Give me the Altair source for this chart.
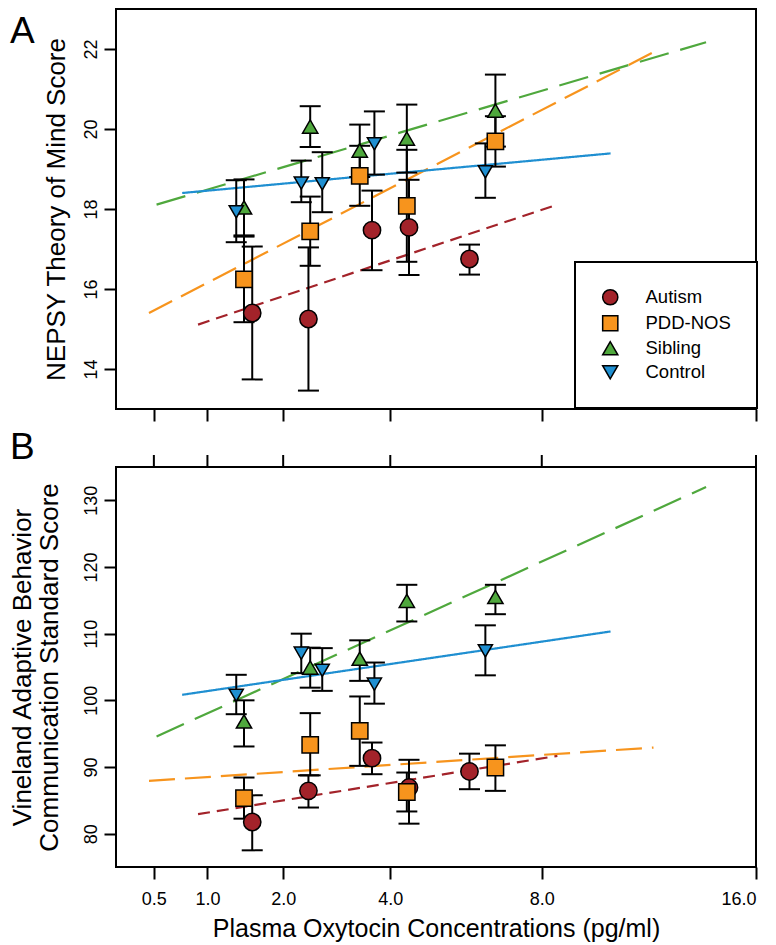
import altair as alt
import pandas as pd

FONT = "Liberation Sans"

groups = ["Autism", "PDD-NOS", "Sibling", "Control"]
colors = ["#A3232A", "#F7941D", "#4FA83D", "#1F8FD1"]
shapes = ["circle", "square", "triangle-up", "triangle-down"]
sizes = [300, 200, 260, 260]
dashes = [[12, 7], [26, 10], [30, 12], [1, 0]]

x_ticks = [0.5, 1.0, 2.0, 4.0, 8.0, 16.0]
ya_ticks = [14, 16, 18, 20, 22]
yb_ticks = [80, 90, 100, 110, 120, 130]

# group-mean oxytocin concentration (pg/ml)
autism_x = [1.55, 2.41, 3.61, 4.42, 5.92]
pdd_x = [1.44, 2.44, 3.36, 4.37, 6.63]
sib_x = [1.44, 2.44, 3.36, 4.37, 6.63]
ctrl_x = [1.34, 2.29, 2.65, 3.66, 6.35]

# Panel A: NEPSY Theory of Mind
autism_a = [15.40, 15.25, 17.47, 17.54, 16.75]
autism_a_lo = [13.74, 13.46, 16.47, 16.35, 16.36]
autism_a_hi = [17.06, 17.04, 18.46, 18.73, 17.11]
pdd_a = [16.24, 17.44, 18.83, 18.08, 19.69]
pdd_a_lo = [15.17, 16.58, 18.08, 16.68, 19.06]
pdd_a_hi = [17.31, 18.31, 19.58, 19.48, 20.32]
sib_a = [18.04, 20.06, 19.46, 19.76, 20.46]
sib_a_lo = [17.34, 19.55, 18.80, 18.91, 19.56]
sib_a_hi = [18.74, 20.57, 20.11, 20.61, 21.36]
ctrl_a = [17.93, 18.65, 18.63, 19.63, 18.93]
ctrl_a_lo = [17.17, 18.17, 17.92, 18.86, 18.28]
ctrl_a_hi = [18.72, 19.21, 19.42, 20.44, 19.64]

# Panel B: Vineland communication
autism_b = [81.75, 86.42, 91.33, 86.92, 89.33]
autism_b_lo = [77.50, 83.92, 88.92, 81.50, 86.67]
autism_b_hi = [85.75, 88.75, 93.67, 91.08, 92.00]
pdd_b = [85.33, 93.33, 95.42, 86.25, 89.92]
pdd_b_lo = [82.25, 88.75, 90.17, 83.33, 86.42]
pdd_b_hi = [88.42, 98.08, 100.58, 89.17, 93.25]
sib_b = [96.83, 104.92, 106.25, 114.92, 115.50]
sib_b_lo = [93.08, 101.90, 102.92, 111.83, 112.92]
sib_b_hi = [100.00, 107.90, 109.00, 117.33, 117.33]
ctrl_b = [100.75, 107.08, 104.50, 102.42, 107.42]
ctrl_b_lo = [97.92, 104.08, 101.42, 99.50, 103.75]
ctrl_b_hi = [103.83, 110.00, 107.83, 105.67, 111.25]

# fitted lines: start / end x and y
line_x0 = [0.90, 0.463, 0.521, 0.743]
line_x1 = [8.49, 11.83, 13.89, 10.27]
line_a_y0 = [15.11, 15.40, 18.11, 18.40]
line_a_y1 = [18.11, 21.92, 22.17, 19.39]
line_b_y0 = [82.92, 87.92, 94.58, 100.83]
line_b_y1 = [91.67, 92.92, 132.00, 110.33]


def points_frame(xs, ys, los, his):
    rows = []
    for g, xl, yl, ll, hl in zip(groups, xs, ys, los, his):
        for x, y, lo, hi in zip(xl, yl, ll, hl):
            rows.append({"group": g, "x": x, "y": y, "lo": lo, "hi": hi})
    return pd.DataFrame(rows)


def caps_frame(df):
    rows = []
    for _, r in df.iterrows():
        rows.append({"group": r["group"], "x": r["x"], "yc": r["lo"]})
        rows.append({"group": r["group"], "x": r["x"], "yc": r["hi"]})
    return pd.DataFrame(rows)


def lines_frame(y0, y1):
    rows = []
    for g, a, b, c, d in zip(groups, line_x0, line_x1, y0, y1):
        rows.append({"group": g, "x": a, "y": c})
        rows.append({"group": g, "x": b, "y": d})
    return pd.DataFrame(rows)


xs_all = [autism_x, pdd_x, sib_x, ctrl_x]
pts_a = points_frame(xs_all, [autism_a, pdd_a, sib_a, ctrl_a],
                     [autism_a_lo, pdd_a_lo, sib_a_lo, ctrl_a_lo],
                     [autism_a_hi, pdd_a_hi, sib_a_hi, ctrl_a_hi])
pts_b = points_frame(xs_all, [autism_b, pdd_b, sib_b, ctrl_b],
                     [autism_b_lo, pdd_b_lo, sib_b_lo, ctrl_b_lo],
                     [autism_b_hi, pdd_b_hi, sib_b_hi, ctrl_b_hi])
lines_a = lines_frame(line_a_y0, line_a_y1)
lines_b = lines_frame(line_b_y0, line_b_y1)

W, H = 640, 400
xscale = alt.Scale(type="sqrt", domain=[0.25, 16], nice=False, zero=False)


def make_panel(pts, lines, ydomain, yticks, ytitle, title_x, letter, letter_y,
               bottom_labels, legend):
    yscale = alt.Scale(domain=ydomain, nice=False, zero=False)
    xaxis = alt.Axis(values=x_ticks, labels=bottom_labels, format=".1f",
                     title="Plasma Oxytocin Concentrations (pg/ml)" if bottom_labels else None,
                     tickSize=12, tickWidth=2, tickColor="black", domain=False, grid=False,
                     labelFontSize=18, labelPadding=11, labelFont=FONT, labelColor="black",
                     titleFontSize=25, titleFont=FONT, titleFontWeight="normal",
                     titleColor="black", titlePadding=8)
    yaxis = alt.Axis(values=yticks, title=ytitle, tickSize=12, tickWidth=2,
                     tickColor="black", domain=False, grid=False,
                     labelAngle=270, labelAlign="center", labelBaseline="bottom",
                     labelFontSize=18, labelPadding=4, labelFont=FONT, labelColor="black",
                     titleFontSize=26, titleFont=FONT, titleFontWeight="normal",
                     titleColor="black", titleAngle=270, titleAlign="center",
                     titleBaseline="middle", titleX=title_x, titleY=H / 2,
                     titleLineHeight=26.5)

    X = alt.X("x:Q", scale=xscale, axis=xaxis)

    line_layer = alt.Chart(lines).mark_line(strokeWidth=2.2).encode(
        x=X,
        y=alt.Y("y:Q", scale=yscale, axis=yaxis),
        color=alt.Color("group:N", scale=alt.Scale(domain=groups, range=colors), legend=None),
        strokeDash=alt.StrokeDash("group:N", scale=alt.Scale(domain=groups, range=dashes), legend=None),
        detail="group:N",
    )
    bar_layer = alt.Chart(pts).mark_rule(color="black", strokeWidth=2).encode(
        x=X,
        y=alt.Y("lo:Q", scale=yscale, axis=yaxis),
        y2="hi:Q",
    )
    cap_layer = alt.Chart(caps_frame(pts)).mark_tick(
        orient="horizontal", color="black", size=21, thickness=2, opacity=1
    ).encode(
        x=X,
        y=alt.Y("yc:Q", scale=yscale, axis=yaxis),
    )
    if legend:
        leg = alt.Legend(title=None, orient="none", legendX=459, legendY=253,
                         direction="vertical", padding=26, strokeColor="black",
                         fillColor="white", labelFontSize=18.5, labelFont=FONT,
                         labelColor="black", symbolSize=230,
                         symbolStrokeWidth=1.5, rowPadding=4, labelOffset=26)
    else:
        leg = None
    pt_layer = alt.Chart(pts).mark_point(filled=True, strokeWidth=1.5, opacity=1).encode(
        x=X,
        y=alt.Y("y:Q", scale=yscale, axis=yaxis),
        fill=alt.Fill("group:N", scale=alt.Scale(domain=groups, range=colors), legend=leg),
        shape=alt.Shape("group:N", scale=alt.Scale(domain=groups, range=shapes), legend=leg),
        stroke=alt.Stroke("group:N", scale=alt.Scale(domain=groups, range=["black"] * 4),
                          legend=leg),
        size=alt.Size("group:N", scale=alt.Scale(domain=groups, range=sizes), legend=None),
    )
    letter_layer = alt.Chart(pd.DataFrame({"label": [letter]})).mark_text(
        font=FONT, fontSize=37, align="left", baseline="alphabetic", color="black"
    ).encode(x=alt.value(-106), y=alt.value(letter_y), text="label:N")

    layers = [line_layer, bar_layer, cap_layer, pt_layer, letter_layer]
    if bottom_labels:
        top_ticks = alt.Chart(pd.DataFrame({"x": x_ticks})).mark_rule(
            color="black", strokeWidth=2
        ).encode(x=X, y=alt.value(0), y2=alt.value(-12))
        layers.append(top_ticks)
    return alt.layer(*layers).properties(width=W, height=H)


panel_a = make_panel(pts_a, lines_a, [13, 23], ya_ticks, "NEPSY Theory of Mind Score",
                     -60, "A", 34, False, True)
panel_b = make_panel(pts_b, lines_b, [75, 135], yb_ticks,
                     ["Vineland Adaptive Behavior", "Communication Standard Score"],
                     -93.5, "B", -8, True, False)

chart = alt.vconcat(panel_a, panel_b, spacing=58, bounds="flush").resolve_legend(
    fill="independent", shape="independent", stroke="independent"
).configure(padding=0).configure_view(stroke="black", strokeWidth=2).configure_legend(
    strokeWidth=2
)

chart.save("out.html", embed_options={"renderer": "svg", "actions": False})
